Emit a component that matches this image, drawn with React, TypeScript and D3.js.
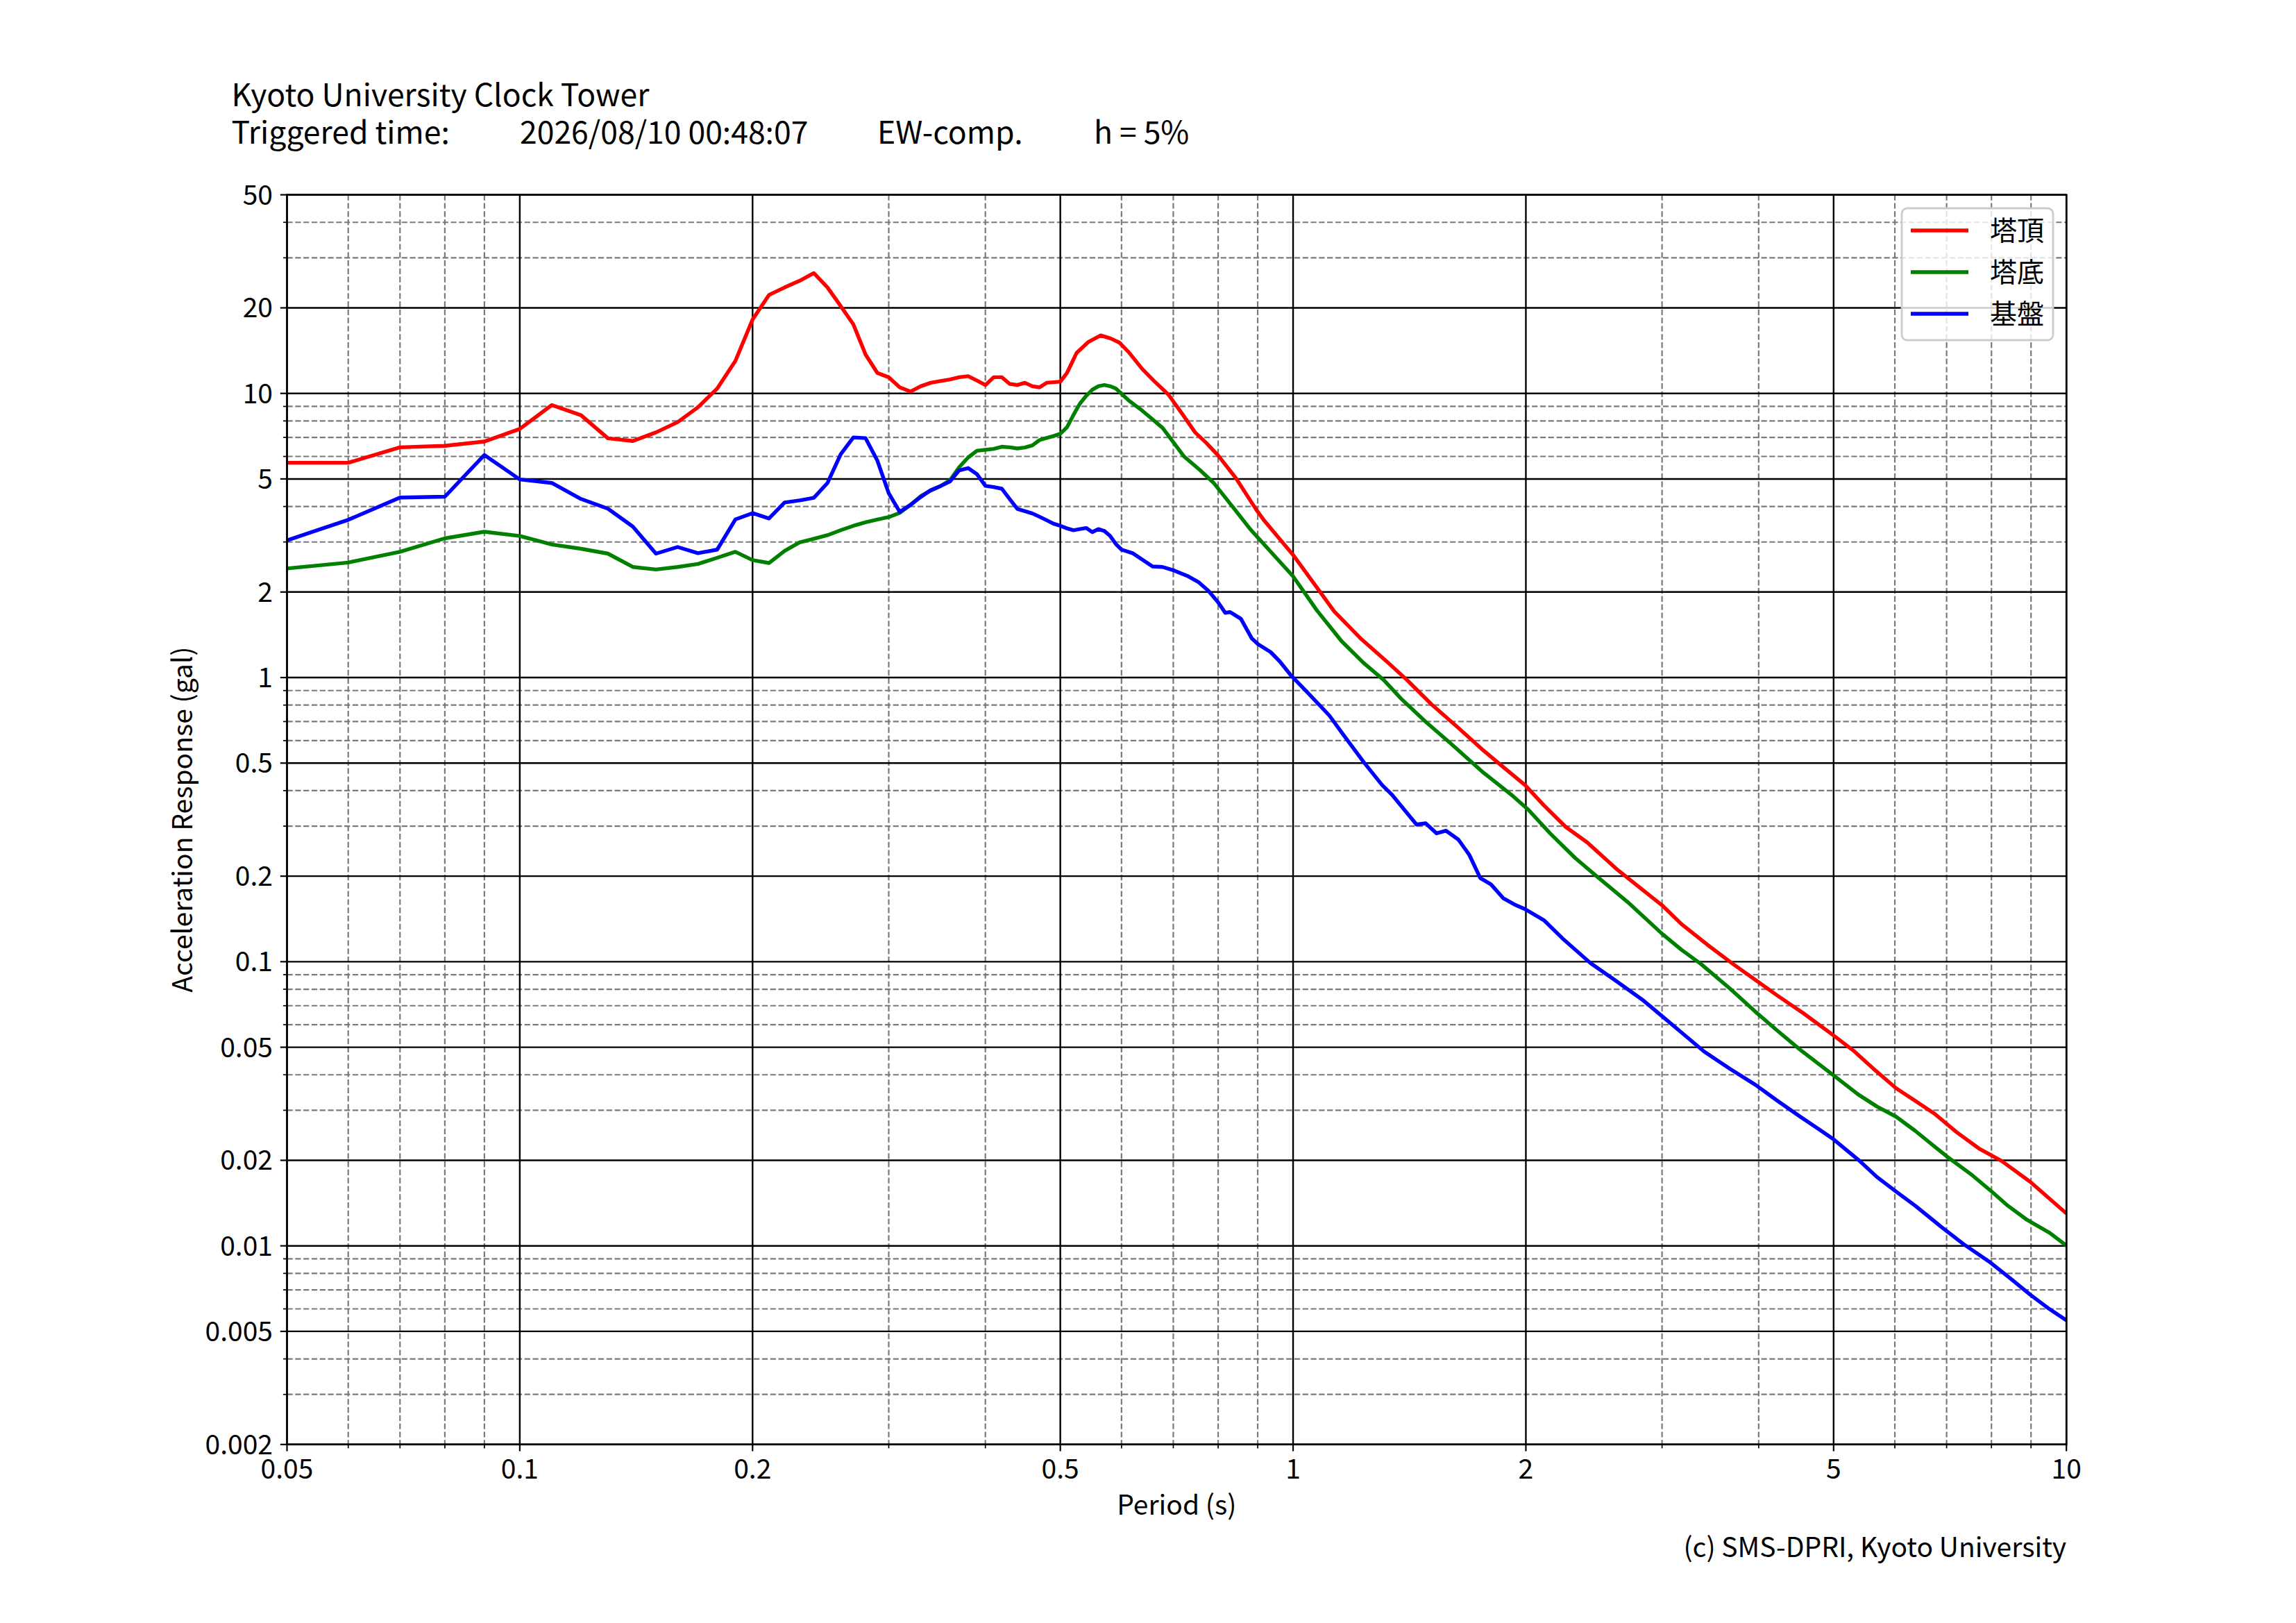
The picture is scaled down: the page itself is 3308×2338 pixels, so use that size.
import React from "react";
import * as d3 from "d3";

// ---------- data ----------
const seriesNames = ["塔頂", "塔底", "基盤"];
const seriesColors = ["#ff0000", "#008000", "#0000ff"];

const topPeriods = [
  0.05, 0.06, 0.07, 0.08, 0.09, 0.1, 0.11, 0.12, 0.13, 0.14, 0.15, 0.16, 0.17, 0.18, 0.19, 0.2,
  0.21, 0.22, 0.23, 0.24, 0.25, 0.26, 0.27, 0.28, 0.29, 0.3, 0.31, 0.32, 0.33, 0.34, 0.35, 0.36,
  0.37, 0.38, 0.39, 0.4, 0.41, 0.42, 0.43, 0.44, 0.45, 0.46, 0.47, 0.48, 0.49, 0.5, 0.51, 0.525,
  0.544, 0.564, 0.581, 0.596, 0.6125, 0.638, 0.66, 0.69, 0.719, 0.747, 0.772, 0.8, 0.844, 0.896,
  0.9175, 1.0, 1.084, 1.13, 1.222, 1.328, 1.404, 1.512, 1.628, 1.754, 1.889, 1.996, 2.11, 2.252,
  2.402, 2.63, 3.0, 3.18, 3.434, 3.705, 3.96, 4.232, 4.568, 5.0, 5.32, 5.63, 6.02, 6.375, 6.75,
  7.215, 7.71, 8.245, 8.98, 10,
];
const topValues = [
  5.7, 5.7, 6.46, 6.54, 6.77, 7.5, 9.1, 8.38, 6.95, 6.8, 7.29, 7.92, 8.94, 10.4, 13.0, 18.2,
  22.2, 23.6, 24.9, 26.5, 23.6, 20.3, 17.5, 13.7, 11.8, 11.4, 10.5, 10.15, 10.6, 10.9, 11.05, 11.2,
  11.4, 11.5, 11.1, 10.7, 11.4, 11.4, 10.8, 10.7, 10.9, 10.6, 10.5, 10.9, 10.95, 11.0, 11.8, 13.9,
  15.2, 16.0, 15.6, 15.1, 14.0, 12.2, 11.1, 9.9, 8.46, 7.29, 6.7, 6.05, 5.02, 3.9,
  3.57, 2.7, 2.0, 1.71, 1.375, 1.125, 0.98, 0.802, 0.673, 0.56, 0.473, 0.418, 0.355, 0.298,
  0.2626, 0.21, 0.158, 0.1355, 0.1147, 0.0982, 0.0863, 0.0759, 0.0659, 0.055, 0.0483, 0.042, 0.0359, 0.0324, 0.0292,
  0.0251, 0.022, 0.0199, 0.0168, 0.013,
];

const basePeriods = [
  0.05, 0.06, 0.07, 0.08, 0.09, 0.1, 0.11, 0.12, 0.13, 0.14, 0.15, 0.16, 0.17, 0.18, 0.19, 0.2,
  0.21, 0.22, 0.23, 0.24, 0.25, 0.26, 0.27, 0.28, 0.29, 0.3, 0.31, 0.32, 0.33, 0.34, 0.35, 0.36,
  0.37, 0.38, 0.39, 0.4, 0.41, 0.42, 0.43, 0.44, 0.45, 0.46, 0.47, 0.48, 0.49, 0.5, 0.51, 0.52,
  0.53, 0.54, 0.55, 0.56, 0.57, 0.58, 0.59, 0.6125, 0.638, 0.678, 0.723, 0.7585, 0.79, 0.834, 0.88,
  1.0, 1.074, 1.156, 1.234, 1.31, 1.379, 1.484, 1.599, 1.754, 1.924, 2.016, 2.149, 2.315, 2.447,
  2.709, 3.0, 3.18, 3.368, 3.68, 3.96, 4.232, 4.525, 5.0, 5.38, 5.69, 6.02, 6.375, 7.01, 7.56,
  8.01, 8.4, 8.9, 9.51, 10,
];
const baseValues = [
  2.42, 2.54, 2.77, 3.09, 3.26, 3.15, 2.94, 2.84, 2.73, 2.45, 2.4, 2.45, 2.51, 2.64, 2.77, 2.59,
  2.53, 2.79, 2.99, 3.08, 3.17, 3.3, 3.42, 3.52, 3.6, 3.67, 3.8, 4.05, 4.35, 4.55, 4.72, 4.95,
  5.5, 5.95, 6.28, 6.33, 6.38, 6.49, 6.46, 6.4, 6.45, 6.56, 6.85, 6.97, 7.08, 7.21, 7.6, 8.4,
  9.2, 9.8, 10.3, 10.6, 10.7, 10.6, 10.4, 9.46, 8.7, 7.56, 5.99, 5.36, 4.83, 4.01, 3.33,
  2.27, 1.72, 1.34, 1.125, 0.98, 0.843, 0.699, 0.586, 0.468, 0.383, 0.342, 0.283, 0.232, 0.204,
  0.162, 0.1254, 0.11, 0.0982, 0.08, 0.0667, 0.0571, 0.049, 0.0398, 0.0341, 0.0309, 0.0285, 0.0254, 0.0206, 0.0177,
  0.0155, 0.01384, 0.01233, 0.01112, 0.01002,
];

const groundPeriods = [
  0.05, 0.06, 0.07, 0.08, 0.09, 0.1, 0.11, 0.12, 0.13, 0.14, 0.15, 0.16, 0.17, 0.18, 0.19, 0.2,
  0.21, 0.22, 0.23, 0.24, 0.25, 0.26, 0.27, 0.28, 0.29, 0.3, 0.31, 0.32, 0.33, 0.34, 0.35, 0.36,
  0.37, 0.38, 0.39, 0.4, 0.41, 0.42, 0.43, 0.44, 0.45, 0.46, 0.47, 0.48, 0.49, 0.5, 0.51, 0.52,
  0.53, 0.54, 0.55, 0.56, 0.57, 0.58, 0.59, 0.6, 0.62, 0.658, 0.678, 0.702, 0.732, 0.754, 0.777,
  0.8, 0.817, 0.829, 0.856, 0.884, 0.901, 0.935, 0.961, 0.993, 1.044, 1.114, 1.156, 1.234, 1.304,
  1.341, 1.444, 1.484, 1.533, 1.577, 1.636, 1.69, 1.746, 1.803, 1.871, 1.933, 1.996, 2.11, 2.231,
  2.425, 2.604, 2.838, 3.004, 3.18, 3.4, 3.67, 3.96, 4.23, 4.525, 4.79, 5.0, 5.38, 5.69, 6.02,
  6.375, 6.88, 7.355, 7.94, 8.48, 8.98, 9.51, 10,
];
const groundValues = [
  3.04, 3.59, 4.3, 4.33, 6.07, 4.98, 4.84, 4.25, 3.93, 3.4, 2.73, 2.88, 2.74, 2.82, 3.6, 3.79,
  3.63, 4.13, 4.2, 4.29, 4.84, 6.11, 7.0, 6.96, 5.8, 4.45, 3.83, 4.05, 4.32, 4.57, 4.72, 4.9,
  5.36, 5.46, 5.2, 4.73, 4.68, 4.62, 4.25, 3.92, 3.85, 3.78, 3.68, 3.58, 3.48, 3.42, 3.35, 3.3,
  3.33, 3.36, 3.25, 3.33, 3.28, 3.15, 2.95, 2.82, 2.74, 2.46, 2.45, 2.38, 2.27, 2.17, 2.02,
  1.84, 1.69, 1.7, 1.61, 1.375, 1.31, 1.23, 1.14, 1.02, 0.886, 0.735, 0.64, 0.504, 0.418,
  0.388, 0.304, 0.307, 0.283, 0.289, 0.269, 0.2376, 0.197, 0.187, 0.167, 0.159, 0.153, 0.14, 0.1207,
  0.0988, 0.0863, 0.073, 0.0641, 0.0563, 0.0483, 0.042, 0.0369, 0.0324, 0.0285, 0.0257, 0.0237, 0.0201, 0.01746, 0.01554,
  0.01384, 0.0117, 0.01016, 0.00881, 0.00765, 0.00673, 0.00599, 0.00547,
];

const xTickValues = [0.05, 0.1, 0.2, 0.5, 1, 2, 5, 10];
const xTickLabels = ["0.05", "0.1", "0.2", "0.5", "1", "2", "5", "10"];
const xMinorValues = [0.06, 0.07, 0.08, 0.09, 0.3, 0.4, 0.6, 0.7, 0.8, 0.9, 3, 4, 6, 7, 8, 9];
const yTickValues = [50, 20, 10, 5, 2, 1, 0.5, 0.2, 0.1, 0.05, 0.02, 0.01, 0.005, 0.002];
const yTickLabels = ["50", "20", "10", "5", "2", "1", "0.5", "0.2", "0.1", "0.05", "0.02", "0.01", "0.005", "0.002"];
const yMinorValues = [
  40, 30, 9, 8, 7, 6, 4, 3, 0.9, 0.8, 0.7, 0.6, 0.4, 0.3, 0.09, 0.08, 0.07, 0.06, 0.04, 0.03,
  0.009, 0.008, 0.007, 0.006, 0.004, 0.003,
];

const titleLine1 = "Kyoto University Clock Tower";
const titleParts = ["Triggered time:", "2026/08/10 00:48:07", "EW-comp.", "h = 5%"];

// ---------- layout ----------
const W = 3308;
const H = 2338;
const L = 413.5;
const R = 2977.2;
const T = 280.6;
const B = 2080.8;
const FONT = "'Noto Sans CJK JP', 'Noto Sans', sans-serif";

export default function App() {
  const x = d3.scaleLog().domain([0.05, 10]).range([L, R]);
  const y = d3.scaleLog().domain([0.002, 50]).range([B, T]);

  const series = [
    { p: topPeriods, v: topValues },
    { p: basePeriods, v: baseValues },
    { p: groundPeriods, v: groundValues },
  ];
  const line = d3
    .line<[number, number]>()
    .x((d) => x(d[0]))
    .y((d) => y(d[1]))
    .curve(d3.curveLinear);

  const titleX = [333.5, 749, 1264, 1576];

  return (
    <svg
      width={W}
      height={H}
      viewBox={`0 0 ${W} ${H}`}
      style={{ position: "absolute", left: 0, top: 0, background: "#fff" }}
      fontFamily={FONT}
    >
      <rect x={0} y={0} width={W} height={H} fill="#fff" />
      <defs>
        <clipPath id="plotClip">
          <rect x={L} y={T} width={R - L} height={B - T} />
        </clipPath>
      </defs>

      {/* minor grid */}
      {xMinorValues.map((v, i) => (
        <line key={"xm" + i} x1={x(v)} x2={x(v)} y1={T} y2={B} stroke="#7a7a7a" strokeWidth={2.2} strokeDasharray="8.2,3.6" />
      ))}
      {yMinorValues.map((v, i) => (
        <line key={"ym" + i} x1={L} x2={R} y1={y(v)} y2={y(v)} stroke="#7a7a7a" strokeWidth={2.2} strokeDasharray="8.2,3.6" />
      ))}
      {/* major grid */}
      {xTickValues.map((v, i) => (
        <line key={"xg" + i} x1={x(v)} x2={x(v)} y1={T} y2={B} stroke="#000" strokeWidth={2.4} />
      ))}
      {yTickValues.map((v, i) => (
        <line key={"yg" + i} x1={L} x2={R} y1={y(v)} y2={y(v)} stroke="#000" strokeWidth={2.4} />
      ))}

      {/* data lines */}
      <g clipPath="url(#plotClip)">
        {series.map((s, k) => (
          <path
            key={"s" + k}
            d={line(s.p.map((p, i) => [p, s.v[i]] as [number, number])) || ""}
            fill="none"
            stroke={seriesColors[k]}
            strokeWidth={5.4}
            strokeLinejoin="round"
            strokeLinecap="butt"
          />
        ))}
      </g>

      {/* spines */}
      <rect x={L} y={T} width={R - L} height={B - T} fill="none" stroke="#000" strokeWidth={2.6} />

      {/* ticks */}
      {xTickValues.map((v, i) => (
        <line key={"xt" + i} x1={x(v)} x2={x(v)} y1={B} y2={B + 9.7} stroke="#000" strokeWidth={2.2} />
      ))}
      {xMinorValues.map((v, i) => (
        <line key={"xmt" + i} x1={x(v)} x2={x(v)} y1={B} y2={B + 5.6} stroke="#000" strokeWidth={1.7} />
      ))}
      {yTickValues.map((v, i) => (
        <line key={"yt" + i} x1={L - 9.7} x2={L} y1={y(v)} y2={y(v)} stroke="#000" strokeWidth={2.2} />
      ))}
      {yMinorValues.map((v, i) => (
        <line key={"ymt" + i} x1={L - 5.6} x2={L} y1={y(v)} y2={y(v)} stroke="#000" strokeWidth={1.7} />
      ))}

      {/* tick labels */}
      {xTickValues.map((v, i) => (
        <text key={"xl" + i} x={x(v)} y={2130} fontSize={39} textAnchor="middle" fill="#000">
          {xTickLabels[i]}
        </text>
      ))}
      {yTickValues.map((v, i) => (
        <text key={"yl" + i} x={393} y={y(v) + 14} fontSize={39} textAnchor="end" fill="#000">
          {yTickLabels[i]}
        </text>
      ))}

      {/* axis labels */}
      <text x={(L + R) / 2} y={2182} fontSize={39} textAnchor="middle" fill="#000">
        Period (s)
      </text>
      <text
        transform={`translate(277,${(T + B) / 2}) rotate(-90)`}
        fontSize={39}
        textAnchor="middle"
        fill="#000"
      >
        Acceleration Response (gal)
      </text>

      {/* title (one text block, two lines) */}
      <text fontSize={44.5} fill="#000">
        <tspan x={titleX[0]} y={152.7}>
          {titleLine1}
        </tspan>
        {titleParts.map((t, i) => (
          <tspan key={"tp" + i} x={titleX[i]} y={207}>
            {t}
          </tspan>
        ))}
      </text>

      {/* copyright */}
      <text x={R} y={2243} fontSize={39} textAnchor="end" fill="#000">
        (c) SMS-DPRI, Kyoto University
      </text>

      {/* legend */}
      <g>
        <rect x={2740} y={300} width={218} height={190} rx={8} ry={8} fill="#fff" fillOpacity={0.8} stroke="#cccccc" strokeWidth={2.8} />
        {seriesNames.map((n, k) => (
          <g key={"lg" + k}>
            <line x1={2753} x2={2836} y1={332 + k * 60} y2={332 + k * 60} stroke={seriesColors[k]} strokeWidth={5.5} />
            <text x={2867} y={332 + k * 60 + 14} fontSize={39} fill="#000">
              {n}
            </text>
          </g>
        ))}
      </g>
    </svg>
  );
}
